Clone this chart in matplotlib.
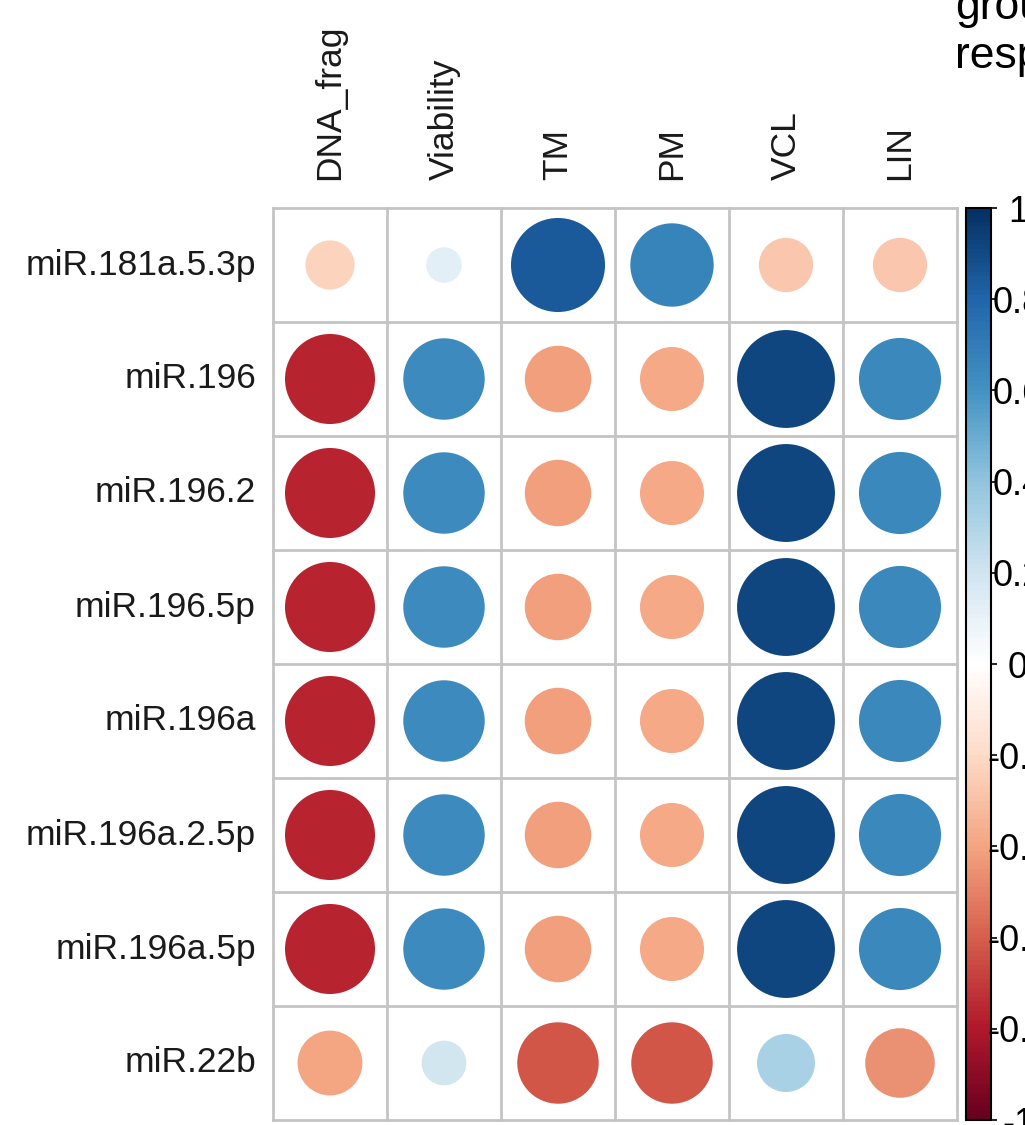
import numpy as np
import matplotlib
matplotlib.use("Agg")
import matplotlib as mpl
import matplotlib.pyplot as plt
from matplotlib.colors import LinearSegmentedColormap, Normalize
from matplotlib.patches import Circle

plt.rcParams['font.family'] = ['Liberation Sans', 'DejaVu Sans']

# correlations of miRNAs with sperm parameters
rows = ['miR.181a.5.3p', 'miR.196', 'miR.196.2', 'miR.196.5p', 'miR.196a',
        'miR.196a.2.5p', 'miR.196a.5p', 'miR.22b']
cols = ['DNA_frag', 'Viability', 'TM', 'PM', 'VCL', 'LIN']

r_181a = [-0.23, 0.12, 0.84, 0.66, -0.28, -0.28]
r_196 = [-0.77, 0.63, -0.42, -0.39, 0.91, 0.64]
r_196_2 = [-0.77, 0.63, -0.42, -0.39, 0.91, 0.64]
r_196_5p = [-0.77, 0.63, -0.42, -0.39, 0.91, 0.64]
r_196a = [-0.77, 0.63, -0.42, -0.39, 0.91, 0.64]
r_196a_2_5p = [-0.77, 0.63, -0.42, -0.39, 0.91, 0.64]
r_196a_5p = [-0.77, 0.63, -0.42, -0.39, 0.91, 0.64]
r_22b = [-0.40, 0.19, -0.63, -0.63, 0.32, -0.46]

corr = np.array([r_181a, r_196, r_196_2, r_196_5p, r_196a,
                 r_196a_2_5p, r_196a_5p, r_22b])

cb_ticks = np.linspace(-1, 1, 11)
cb_labels = ['-1', '-0.8', '-0.6', '-0.4', '-0.2', '0', '0.2', '0.4', '0.6', '0.8', '1']

# corrplot's COL2('RdBu', 200)
col2 = ["#67001F", "#B2182B", "#D6604D", "#F4A582", "#FDDBC7", "#FFFFFF",
        "#D1E5F0", "#92C5DE", "#4393C3", "#2166AC", "#053061"]
cmap = LinearSegmentedColormap.from_list('RdBu200', col2, N=200)
norm = Normalize(-1, 1)

W, H = 1025, 1125
fig = plt.figure(figsize=(W / 100, H / 100), dpi=100)


def box(x0, y0, x1, y1):
    return [x0 / W, 1 - y1 / H, (x1 - x0) / W, (y1 - y0) / H]


ax = fig.add_axes(box(273, 208, 957, 1120))
nr, nc = corr.shape
ax.set_xlim(0, nc)
ax.set_ylim(nr, 0)
ax.axis('off')

grid_col = '#C4C4C4'
for j in range(nc + 1):
    ax.plot([j, j], [0, nr], color=grid_col, lw=2, clip_on=False, zorder=1)
for i in range(nr + 1):
    ax.plot([0, nc], [i, i], color=grid_col, lw=2, clip_on=False, zorder=1)

for i in range(nr):
    for j in range(nc):
        r = corr[i, j]
        ax.add_patch(Circle((j + 0.5, i + 0.5), 0.45 * np.sqrt(abs(r)),
                            facecolor=cmap(norm(r)), edgecolor='none', zorder=2))

for i, name in enumerate(rows):
    ax.text(-0.15, i + 0.5, name, ha='right', va='center', fontsize=25.5, color='#1a1a1a')
for j, name in enumerate(cols):
    ax.text(j + 0.5, -0.245, name, ha='center', va='bottom', rotation=90,
            fontsize=25.5, color='#1a1a1a')

cax = fig.add_axes(box(966, 208, 991, 1120))
cb = mpl.colorbar.ColorbarBase(cax, cmap=cmap, norm=norm, ticks=cb_ticks)
cb.set_ticklabels(cb_labels)
cb.outline.set_linewidth(1.5)
cax.tick_params(length=4.5, width=1.2, pad=15, labelsize=26)
for t in cax.get_yticklabels():
    t.set_ha('center')

fig.text(955 / W, 1 - 19 / H, 'groups', fontsize=32, va='baseline', ha='left')
fig.text(955 / W, 1 - 68 / H, 'respectively', fontsize=32, va='baseline', ha='left')

fig.savefig('out.png', dpi=100)
